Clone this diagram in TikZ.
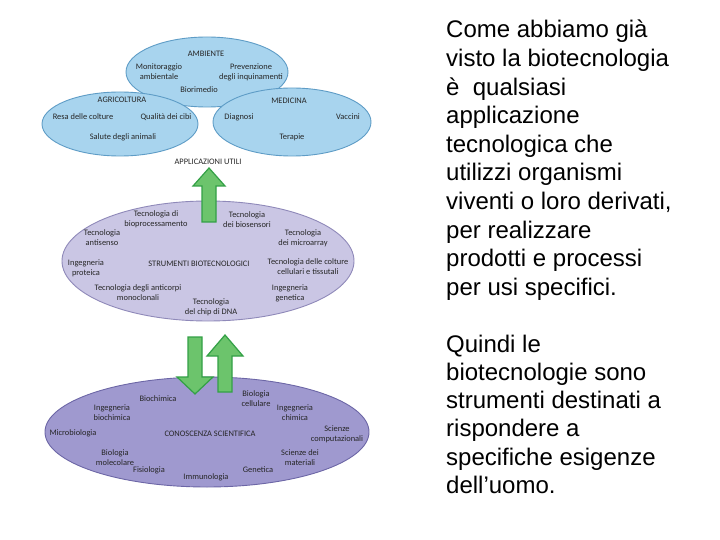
\documentclass[tikz,border=0pt]{standalone}
\usepackage{fontspec}
\setmainfont{Liberation Sans}
\newfontfamily\lab{Carlito}
\usetikzlibrary{shapes.geometric}
\definecolor{blueF}{HTML}{A8D4EE}
\definecolor{blueE}{HTML}{5E9CC6}
\definecolor{lilaF}{HTML}{CAC6E4}
\definecolor{lilaE}{HTML}{8F89B9}
\definecolor{purpF}{HTML}{9F99CF}
\definecolor{purpE}{HTML}{6C66A6}
\definecolor{arrF}{HTML}{6CC46C}
\definecolor{arrE}{HTML}{33A046}
\tikzset{
  ell/.style={ellipse, inner sep=0pt, line width=0.9pt},
  lbl/.style={font=\lab\fontsize{8.4}{9.8}\selectfont, align=center, inner sep=0pt, text=black!85},
  body/.style={font=\fontsize{24}{28}\selectfont, anchor=base west, inner sep=0pt},
  garrow/.style={fill=arrF, draw=arrE, line width=1.2pt, line join=miter}
}
\begin{document}
\begin{tikzpicture}[x=1pt,y=-1pt]
\useasboundingbox (0,0) rectangle (720,540);
\fill[white] (0,0) rectangle (720,540);

% top ellipses
\node[ell, fill=blueF, draw=blueE, minimum width=162, minimum height=70] (amb) at (207,72) {};
\node[ell, fill=blueF, draw=blueE, minimum width=156, minimum height=64] (agr) at (120,124) {};
\node[ell, fill=blueF, draw=blueE, minimum width=158, minimum height=68] (med) at (292,122) {};

\node[lbl] (l1) at (206,54) {AMBIENTE};
\node[lbl] (l2) at (159,72) {Monitoraggio\\ambientale};
\node[lbl] (l3) at (251,72) {Prevenzione\\degli inquinamenti};
\node[lbl] (l4) at (199,90) {Biorimedio};
\node[lbl] (l5) at (122,100) {AGRICOLTURA};
\node[lbl] (l6) at (83,117) {Resa delle colture};
\node[lbl] (l7) at (166,117) {Qualità dei cibi};
\node[lbl] (l8) at (123,137) {Salute degli animali};
\node[lbl] (l9) at (289,101) {MEDICINA};
\node[lbl] (l10) at (239,117) {Diagnosi};
\node[lbl] (l11) at (348,117) {Vaccini};
\node[lbl] (l12) at (292,137) {Terapie};
\node[lbl] (app) at (208,162) {APPLICAZIONI UTILI};

% middle ellipse
\node[ell, fill=lilaF, draw=lilaE, minimum width=292, minimum height=120] (str) at (208,261) {};
\node[lbl] (m1) at (156,219) {Tecnologia di\\bioprocessamento};
\node[lbl] (m2) at (247,220) {Tecnologia\\dei biosensori};
\node[lbl] (m3) at (102,238) {Tecnologia\\antisenso};
\node[lbl] (m4) at (303,238) {Tecnologia\\dei microarray};
\node[lbl] (m5) at (86,268) {Ingegneria\\proteica};
\node[lbl] (m6) at (199,264) {STRUMENTI BIOTECNOLOGICI};
\node[lbl] (m7) at (308,267) {Tecnologia delle colture\\cellulari e tissutali};
\node[lbl] (m8) at (138,293) {Tecnologia degli anticorpi\\monoclonali};
\node[lbl] (m9) at (290,293) {Ingegneria\\genetica};
\node[lbl] (m10) at (211,307) {Tecnologia\\del chip di DNA};

% bottom ellipse
\node[ell, fill=purpF, draw=purpE, minimum width=324, minimum height=110] (con) at (207,432) {};
\node[lbl] (b1) at (158,399) {Biochimica};
\node[lbl] (b2) at (256,399) {Biologia\\cellulare};
\node[lbl] (b3) at (112,413) {Ingegneria\\biochimica};
\node[lbl] (b4) at (295,413) {Ingegneria\\chimica};
\node[lbl] (b5) at (337,434) {Scienze\\computazionali};
\node[lbl] (b6) at (73,433) {Microbiologia};
\node[lbl] (b7) at (210,434) {CONOSCENZA SCIENTIFICA};
\node[lbl] (b8) at (115,458) {Biologia\\molecolare};
\node[lbl] (b9) at (300,458) {Scienze dei\\materiali};
\node[lbl] (b10) at (149,470) {Fisiologia};
\node[lbl] (b11) at (258,470) {Genetica};
\node[lbl] (b12) at (206,477) {Immunologia};

% green arrows
\draw[garrow] (209,168) -- (225,186) -- (216,186) -- (216,222) -- (202,222) -- (202,186) -- (193,186) -- cycle;
\draw[garrow] (195,394) -- (213,377) -- (202,377) -- (202,337) -- (188,337) -- (188,377) -- (177,377) -- cycle;
\draw[garrow] (225,335) -- (243,356) -- (232,356) -- (232,392) -- (218,392) -- (218,356) -- (207,356) -- cycle;

% right text
\node[body] (t1) at (446,38) {Come abbiamo già};
\node[body] (t2) at (446,66.6) {visto la biotecnologia};
\node[body] (t3) at (446,95.2) {è\ \ qualsiasi};
\node[body] (t4) at (446,123.8) {applicazione};
\node[body] (t5) at (446,152.4) {tecnologica che};
\node[body] (t6) at (446,181) {utilizzi organismi};
\node[body] (t7) at (446,209.6) {viventi o loro derivati,};
\node[body] (t8) at (446,238.2) {per realizzare};
\node[body] (t9) at (446,266.8) {prodotti e processi};
\node[body] (t10) at (446,295.4) {per usi specifici.};
\node[body] (t11) at (446,352) {Quindi le};
\node[body] (t12) at (446,380.3) {biotecnologie sono};
\node[body] (t13) at (446,408.6) {strumenti destinati a};
\node[body] (t14) at (446,436.9) {rispondere a};
\node[body] (t15) at (446,465.2) {specifiche esigenze};
\node[body] (t16) at (446,493.5) {dell’uomo.};
\end{tikzpicture}
\end{document}
